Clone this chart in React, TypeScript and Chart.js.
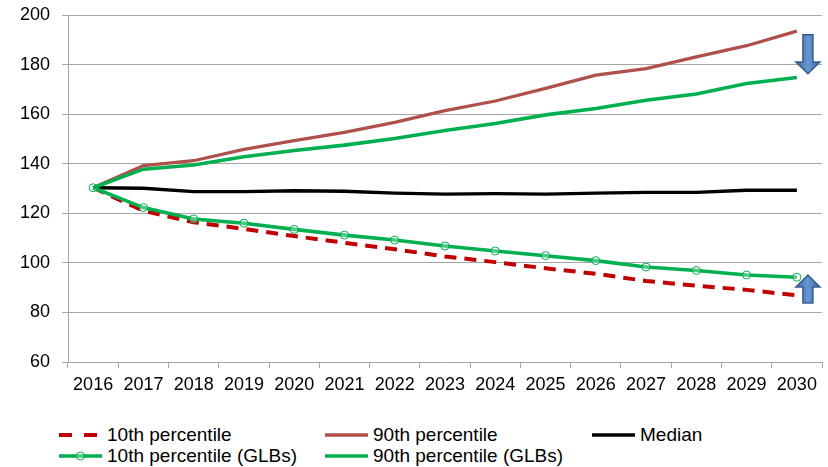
import React, { useEffect, useRef } from "react";
import { Chart, registerables } from "chart.js";

Chart.register(...registerables);

const years = ["2016", "2017", "2018", "2019", "2020", "2021", "2022", "2023", "2024", "2025", "2026", "2027", "2028", "2029", "2030"];
const p10 = [130.3, 121.0, 116.4, 113.7, 110.8, 108.1, 105.5, 102.6, 100.3, 97.8, 95.6, 92.7, 90.8, 89.1, 86.9];
const p90 = [130.3, 139.2, 141.2, 145.8, 149.3, 152.6, 156.7, 161.4, 165.3, 170.4, 175.7, 178.4, 183.1, 187.6, 193.5];
const median = [130.3, 130.1, 128.7, 128.7, 129.1, 128.9, 128.1, 127.7, 127.9, 127.7, 128.1, 128.4, 128.4, 129.3, 129.3];
const p10GLB = [130.3, 122.3, 117.7, 116.0, 113.5, 111.2, 109.2, 106.8, 104.8, 102.9, 100.9, 98.3, 96.9, 95.1, 94.2];
const p90GLB = [130.3, 137.8, 139.5, 142.8, 145.3, 147.5, 150.2, 153.4, 156.2, 159.7, 162.3, 165.6, 168.1, 172.4, 174.8];

const yMin = 60;
const yMax = 200;
const yStep = 20;

// block arrows: [category position, tail value, head-base value, tip value]
const arrowDown = [14.22, 192, 181, 176.3];
const arrowUp = [14.22, 83.8, 90.3, 95.1];

const FONT = "'Liberation Sans', Arial, sans-serif";
const GRID = "#A6A6A6";

const arrowPlugin = {
  id: "blockArrows",
  afterDatasetsDraw(chart: any) {
    const { ctx, scales } = chart;
    const xs = scales.x;
    const ys = scales.y;
    [arrowDown, arrowUp].forEach((a) => {
      const cx = xs.getPixelForValue(a[0]);
      const yTail = ys.getPixelForValue(a[1]);
      const yHead = ys.getPixelForValue(a[2]);
      const yTip = ys.getPixelForValue(a[3]);
      const sw = 5;
      const hw = 12;
      ctx.save();
      ctx.beginPath();
      ctx.moveTo(cx - sw, yTail);
      ctx.lineTo(cx + sw, yTail);
      ctx.lineTo(cx + sw, yHead);
      ctx.lineTo(cx + hw, yHead);
      ctx.lineTo(cx, yTip);
      ctx.lineTo(cx - hw, yHead);
      ctx.lineTo(cx - sw, yHead);
      ctx.closePath();
      const g = ctx.createLinearGradient(cx - hw, 0, cx + hw, 0);
      g.addColorStop(0, "#3A69A6");
      g.addColorStop(0.5, "#6796D2");
      g.addColorStop(1, "#3A69A6");
      ctx.fillStyle = g;
      ctx.fill();
      ctx.lineWidth = 1.5;
      ctx.strokeStyle = "#385D8A";
      ctx.stroke();
      ctx.restore();
    });
  },
};

type LegendItem = { label: string; color: string; dash?: boolean; marker?: boolean; col: number; row: number };

const legendItems: LegendItem[] = [
  { label: "10th percentile", color: "#C00000", dash: true, col: 0, row: 0 },
  { label: "90th percentile", color: "#B0504B", col: 1, row: 0 },
  { label: "Median", color: "#000000", col: 2, row: 0 },
  { label: "10th percentile (GLBs)", color: "#00B050", marker: true, col: 0, row: 1 },
  { label: "90th percentile (GLBs)", color: "#00B050", col: 1, row: 1 },
];
const legendCols = [59, 325, 592];
const legendRows = [435, 455.5];

export default function App() {
  const ref = useRef<HTMLCanvasElement>(null);

  useEffect(() => {
    if (!ref.current) return;
    const chart = new Chart(ref.current, {
      type: "line",
      data: {
        labels: years,
        datasets: [
          {
            label: "10th percentile",
            data: p10,
            borderColor: "#C00000",
            borderWidth: 4,
            borderDash: [12, 8],
            pointRadius: 0,
            order: 5,
          },
          {
            label: "90th percentile",
            data: p90,
            borderColor: "#B0504B",
            borderWidth: 3.3,
            pointRadius: 0,
            order: 4,
          },
          {
            label: "Median",
            data: median,
            borderColor: "#000000",
            borderWidth: 3.3,
            pointRadius: 0,
            order: 3,
          },
          {
            label: "10th percentile (GLBs)",
            data: p10GLB,
            borderColor: "#00B050",
            borderWidth: 3.6,
            pointRadius: 4,
            pointBorderWidth: 1,
            pointBorderColor: "#00B050",
            pointBackgroundColor: "rgba(255,255,255,0.3)",
            order: 2,
          },
          {
            label: "90th percentile (GLBs)",
            data: p90GLB,
            borderColor: "#00B050",
            borderWidth: 3.6,
            pointRadius: 0,
            order: 1,
          },
        ],
      },
      options: {
        animation: false,
        responsive: false,
        devicePixelRatio: 1,
        layout: { padding: { top: 15, right: 6, left: 0, bottom: 0 } },
        elements: { line: { tension: 0, fill: false } },
        plugins: { legend: { display: false }, tooltip: { enabled: false } },
        scales: {
          x: {
            type: "category",
            offset: true,
            grid: { display: true, drawOnChartArea: false, drawTicks: true, tickLength: 6, offset: true, color: GRID },
            border: { color: GRID, width: 1 },
            ticks: { color: "#000", font: { family: FONT, size: 18 }, padding: 6, maxRotation: 0, autoSkip: false },
            afterFit: (s: any) => {
              s.height = 38;
            },
          },
          y: {
            min: yMin,
            max: yMax,
            ticks: { stepSize: yStep, color: "#000", font: { family: FONT, size: 18 }, padding: 12 },
            grid: { color: GRID, tickLength: 6, drawTicks: true },
            border: { color: GRID, width: 1 },
            afterFit: (s: any) => {
              s.width = 68;
              s.paddingTop = 0;
              s.paddingBottom = 0;
            },
          },
        },
      },
      plugins: [arrowPlugin],
    });
    return () => chart.destroy();
  }, []);

  return (
    <div style={{ position: "absolute", left: 0, top: 0, width: 828, height: 467, background: "#fff", fontFamily: FONT }}>
      <canvas ref={ref} width={828} height={400} style={{ position: "absolute", left: 0, top: 0, width: 828, height: 400 }} />
      {legendItems.map((it) => (
        <div
          key={it.label}
          style={{
            position: "absolute",
            left: legendCols[it.col],
            top: legendRows[it.row] - 11,
            height: 22,
            display: "flex",
            alignItems: "center",
            whiteSpace: "nowrap",
          }}
        >
          <svg width={43} height={14} style={{ display: "block" }}>
            <line
              x1={0}
              y1={7}
              x2={43}
              y2={7}
              stroke={it.color}
              strokeWidth={it.dash ? 4 : 3.5}
              strokeDasharray={it.dash ? "13 12" : undefined}
            />
            {it.marker ? <circle cx={21.5} cy={7} r={4} fill="rgba(255,255,255,0.3)" stroke={it.color} strokeWidth={1} /> : null}
          </svg>
          <span style={{ marginLeft: 5, fontSize: 19, lineHeight: "22px", color: "#000" }}>{it.label}</span>
        </div>
      ))}
    </div>
  );
}
